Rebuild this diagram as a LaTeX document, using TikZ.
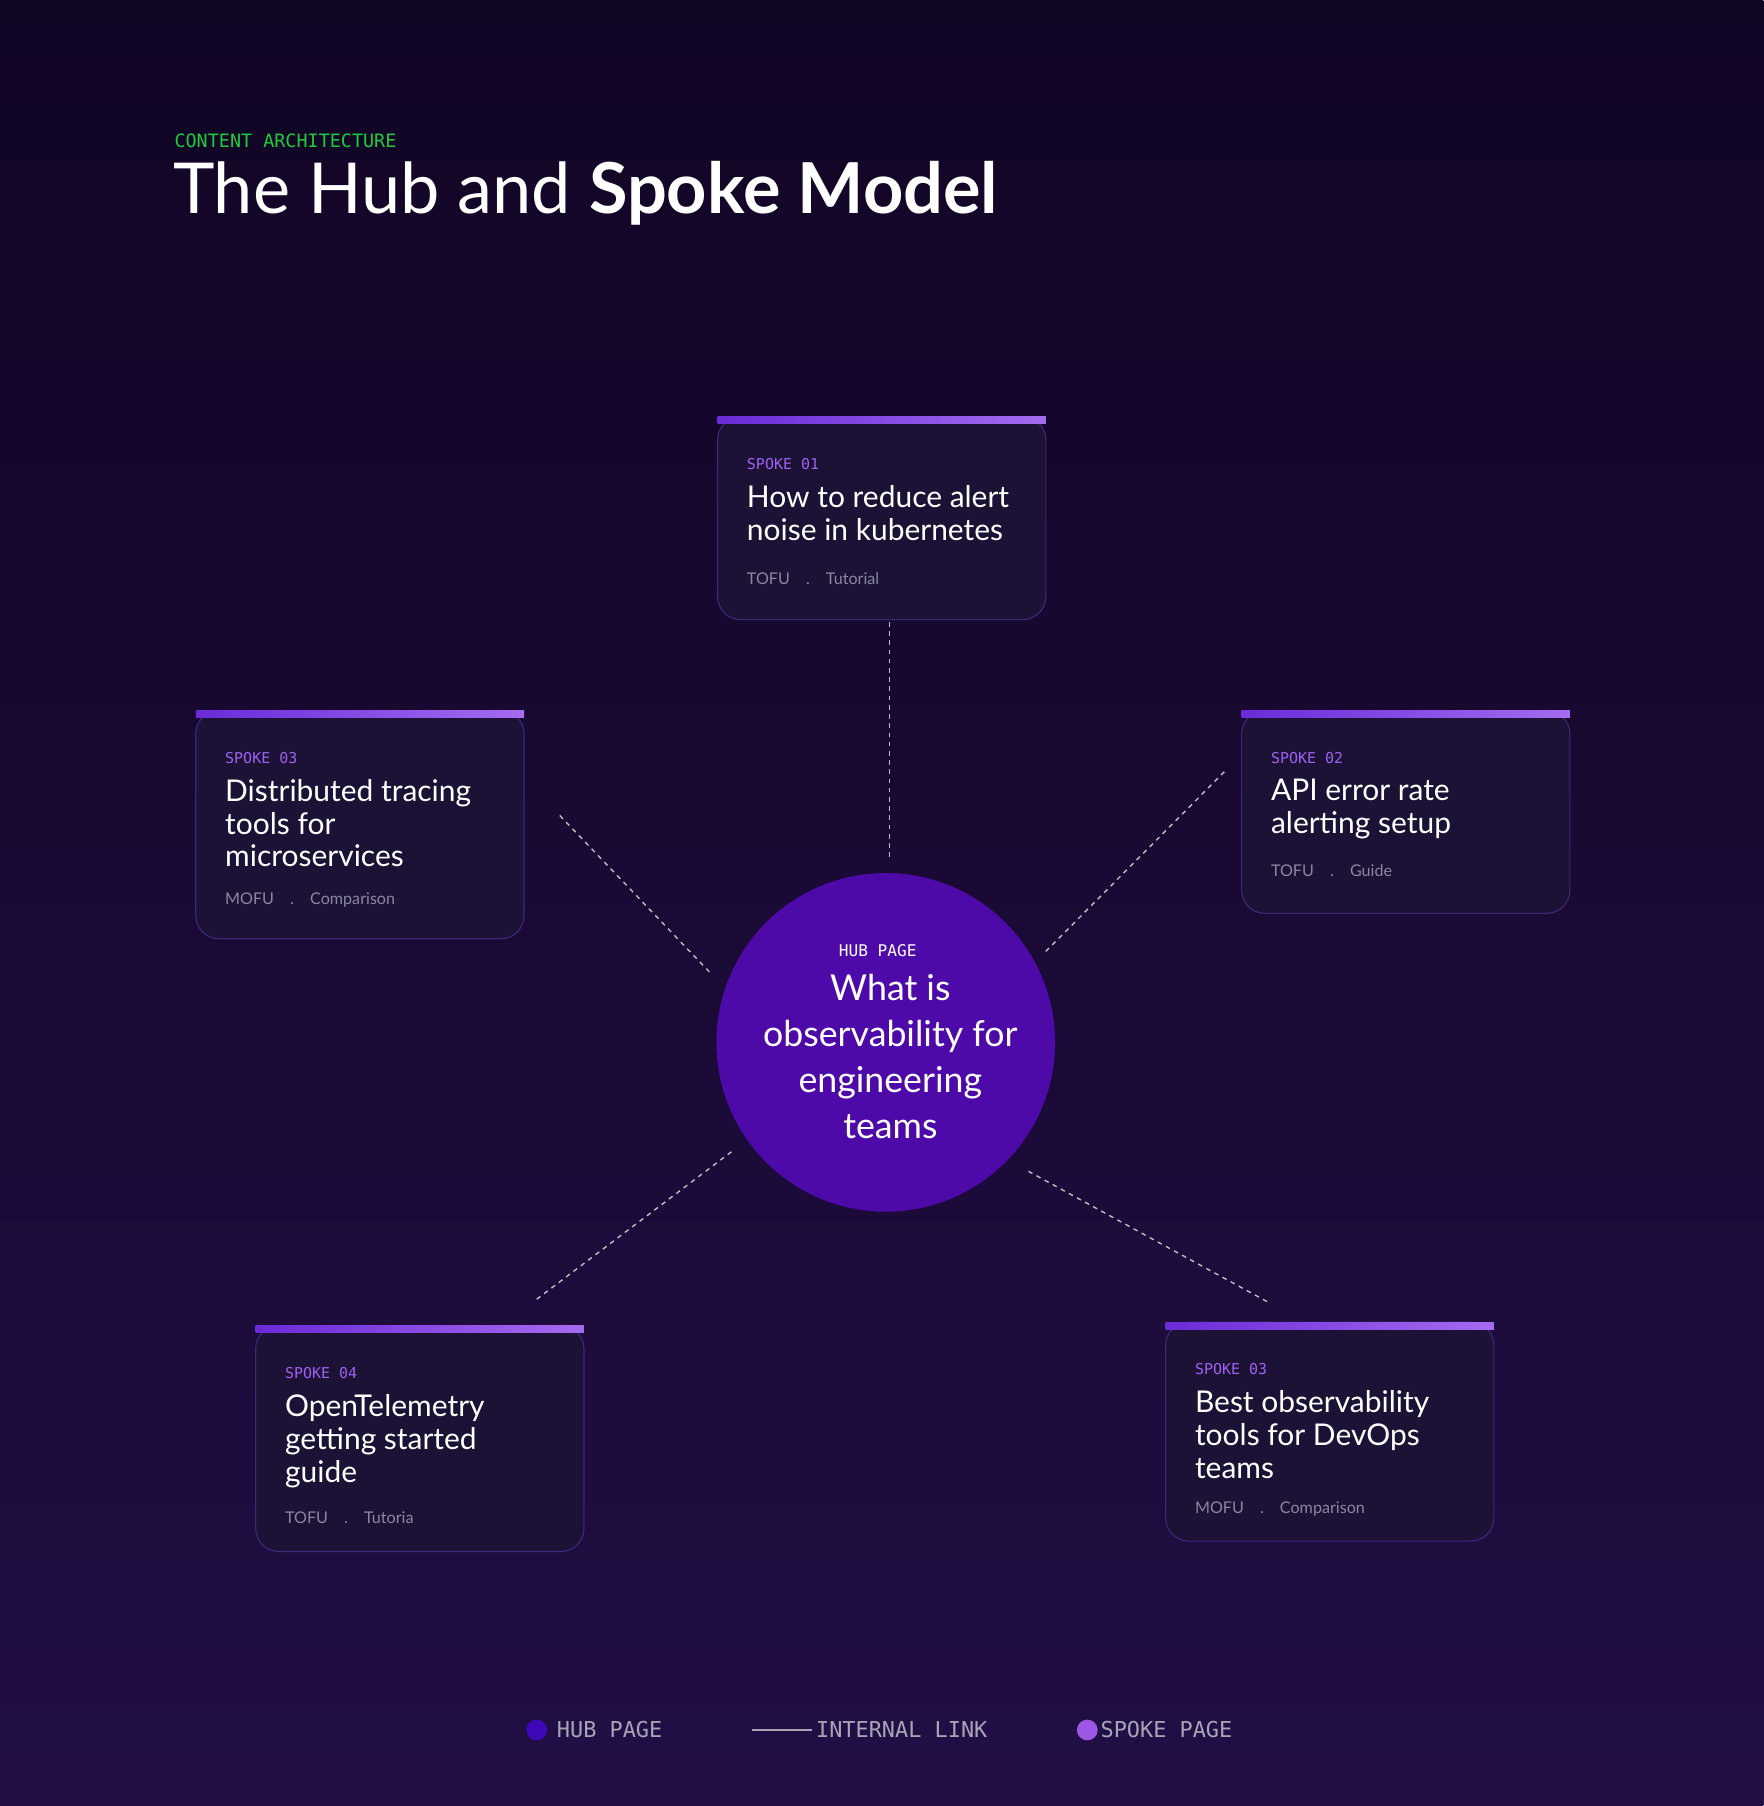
\documentclass[tikz,border=0pt]{standalone}
\usepackage{fontspec}
\setmainfont{Lato}
\setmonofont{DejaVu Sans Mono}
\usetikzlibrary{shadings}
\definecolor{bgtop}{HTML}{110524}
\definecolor{bgbot}{HTML}{220E45}
\definecolor{cardfill}{HTML}{1C1236}
\definecolor{cardline}{HTML}{3A2878}
\definecolor{barA}{HTML}{6A2BD8}
\definecolor{barB}{HTML}{A56BF0}
\definecolor{hub}{HTML}{4E0AA8}
\definecolor{spk}{HTML}{A060F0}
\definecolor{meta}{HTML}{8C86A0}
\definecolor{green}{HTML}{1FCB3A}
\definecolor{legend}{HTML}{A8A4B8}
\begin{document}
\begin{tikzpicture}[x=1pt,y=-1pt,
  spokeline/.style={draw=white!75!black,dash pattern=on 4pt off 4pt,line width=1.2pt},
  lab/.style={font=\ttfamily\fontsize{13}{13}\selectfont,text=spk,anchor=west},
  ttl/.style={font=\fontsize{26}{28.5}\selectfont,text=white,anchor=north west,align=left},
  mt/.style={font=\fontsize{14}{14}\selectfont,text=meta,anchor=west},
  leg/.style={font=\ttfamily\fontsize{19}{19}\selectfont,text=legend,anchor=west}]
\shade[top color=bgtop,bottom color=bgbot] (0,0) rectangle (1531,1568);
\useasboundingbox (0,0) rectangle (1531,1568);
\newcommand\card[9]{%
  \fill[cardfill,draw=cardline,line width=1pt,rounded corners=20pt] (#1,#2) -- (#1,#2+#3) -- (#1+285,#2+#3) -- (#1+285,#2) -- cycle;
  \shade[left color=barA,right color=barB] (#1,#2) rectangle (#1+285,#2+6);
  \node[lab] (#8l) at (#1+22,#2+41) {#4};
  \node[ttl] (#8t) at (#1+22,#2+56) {#5};
  \node[mt] (#8m) at (#1+22,#2+#9) {#6\hspace{1em}.\hspace{1em}#7};
}
\node[font=\ttfamily\fontsize{16}{16}\selectfont,text=green,anchor=west] (kick) at (148,122) {CONTENT ARCHITECTURE};
\node[font=\fontsize{61}{61}\selectfont,text=white,anchor=west,inner sep=0pt] (title) at (150,168) {The Hub and \textbf{Spoke Model}};
\card{623}{362}{176}{SPOKE 01}{How to reduce alert\\noise in kubernetes}{TOFU}{Tutorial}{s1}{140}
\card{170}{617}{198}{SPOKE 03}{Distributed tracing\\tools for\\microservices}{MOFU}{Comparison}{s3}{164}
\card{1078}{617}{176}{SPOKE 02}{API error rate\\alerting setup}{TOFU}{Guide}{s2}{139}
\card{222}{1151}{196}{SPOKE 04}{OpenTelemetry\\getting started\\guide}{TOFU}{Tutoria}{s4}{167}
\card{1012}{1148}{190}{SPOKE 03}{Best observability\\tools for DevOps\\teams}{MOFU}{Comparison}{s5}{162}
\node[circle,fill=hub,minimum size=294pt,inner sep=0pt] (hubc) at (769,905) {};
\node[font=\ttfamily\fontsize{14}{14}\selectfont,text=white] (hubl) at (762,825) {HUB PAGE};
\node[font=\fontsize{31}{40}\selectfont,text=white,align=center,anchor=north] (hubt) at (773,842) {What is\\observability for\\engineering\\teams};
\coordinate (a1) at (772,540); \coordinate (b1) at (772,745);
\coordinate (a2) at (486,708); \coordinate (b2) at (617,845);
\coordinate (a3) at (1063,670); \coordinate (b3) at (907,827);
\coordinate (a4) at (466,1128); \coordinate (b4) at (635,1000);
\coordinate (a5) at (1100,1130); \coordinate (b5) at (893,1017);
\foreach \i in {1,...,5} \draw[spokeline] (a\i) -- (b\i);
\fill[hub!80!blue] (466,1502) circle (9pt) node[coordinate] (ld1) {};
\node[leg] (lt1) at (480,1502) {HUB PAGE};
\coordinate (lla) at (653,1502); \coordinate (llb) at (705,1502);
\draw[legend,line width=1pt] (lla) -- (llb);
\node[leg] (lt2) at (705,1502) {INTERNAL LINK};
\fill[spk!90!violet] (944,1502) circle (9pt) node[coordinate] (ld2) {};
\node[leg] (lt3) at (952,1502) {SPOKE PAGE};
\end{tikzpicture}
\end{document}
